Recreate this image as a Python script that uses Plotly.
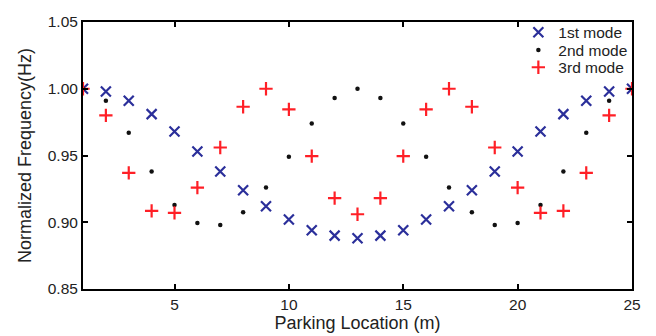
import plotly.graph_objects as go

location = list(range(1, 26))
mode1 = [1.000, 0.998, 0.991, 0.981, 0.968, 0.953, 0.938, 0.924, 0.912, 0.902, 0.894, 0.890, 0.888,
         0.890, 0.894, 0.902, 0.912, 0.924, 0.938, 0.953, 0.968, 0.981, 0.991, 0.998, 1.000]
mode2 = [1.000, 0.991, 0.967, 0.938, 0.913, 0.8995, 0.898, 0.9075, 0.926, 0.949, 0.974, 0.993, 1.000,
         0.993, 0.974, 0.949, 0.926, 0.9075, 0.898, 0.8995, 0.913, 0.938, 0.967, 0.991, 1.000]
mode3 = [1.000, 0.980, 0.937, 0.9085, 0.907, 0.926, 0.956, 0.9865, 1.000, 0.9845, 0.9495, 0.918, 0.906,
         0.918, 0.9495, 0.9845, 1.000, 0.9865, 0.956, 0.926, 0.907, 0.9085, 0.937, 0.980, 1.000]
x_ticks = [5, 10, 15, 20, 25]
y_ticks = [0.85, 0.90, 0.95, 1.00, 1.05]

FONT = "Liberation Sans, Arial, sans-serif"
TXT = "#222222"

fig = go.Figure()
fig.add_trace(go.Scatter(x=location, y=mode1, mode="markers", name="1st mode", legend="legend",
                         marker=dict(symbol="x-thin", size=10, line=dict(color="#2b2f9a", width=2.2))))
fig.add_trace(go.Scatter(x=location, y=mode2, mode="markers", name="2nd mode", legend="legend2",
                         marker=dict(symbol="circle", size=4.5, color="#111111")))
fig.add_trace(go.Scatter(x=location, y=mode3, mode="markers", name="3rd mode", legend="legend3",
                         marker=dict(symbol="cross-thin", size=9.5, line=dict(color="#ff1f26", width=2.2))))

axis_common = dict(showline=True, linecolor="black", linewidth=2, mirror="ticks",
                   ticks="inside", ticklen=5, tickwidth=1.5, tickcolor="black",
                   showgrid=False, zeroline=False, automargin=False,
                   ticklabeloverflow="allow",
                   tickfont=dict(family=FONT, size=15.5, color=TXT))

fig.update_xaxes(range=[1, 25], tickvals=x_ticks, ticktext=[str(v) for v in x_ticks],
                 title=dict(text="Parking Location (m)", standoff=5,
                            font=dict(family=FONT, size=18, color=TXT)),
                 **axis_common)
fig.update_yaxes(range=[0.85, 1.05], tickvals=y_ticks, ticktext=["%.2f" % v for v in y_ticks],
                 title=dict(text="Normalized Frequency(Hz)", standoff=11,
                            font=dict(family=FONT, size=18, color=TXT)),
                 **axis_common)

legend_common = dict(x=0.793, xanchor="left", yanchor="middle",
                     bgcolor="rgba(0,0,0,0)", borderwidth=0,
                     font=dict(family=FONT, size=15.5, color=TXT), itemwidth=30)

fig.update_layout(width=648, height=328, margin=dict(l=75, r=24, t=8, b=47),
                  plot_bgcolor="white", paper_bgcolor="white", showlegend=True,
                  legend=dict(y=0.96, **legend_common),
                  legend2=dict(y=0.894, **legend_common),
                  legend3=dict(y=0.829, **legend_common))

fig.write_html("out.html")
